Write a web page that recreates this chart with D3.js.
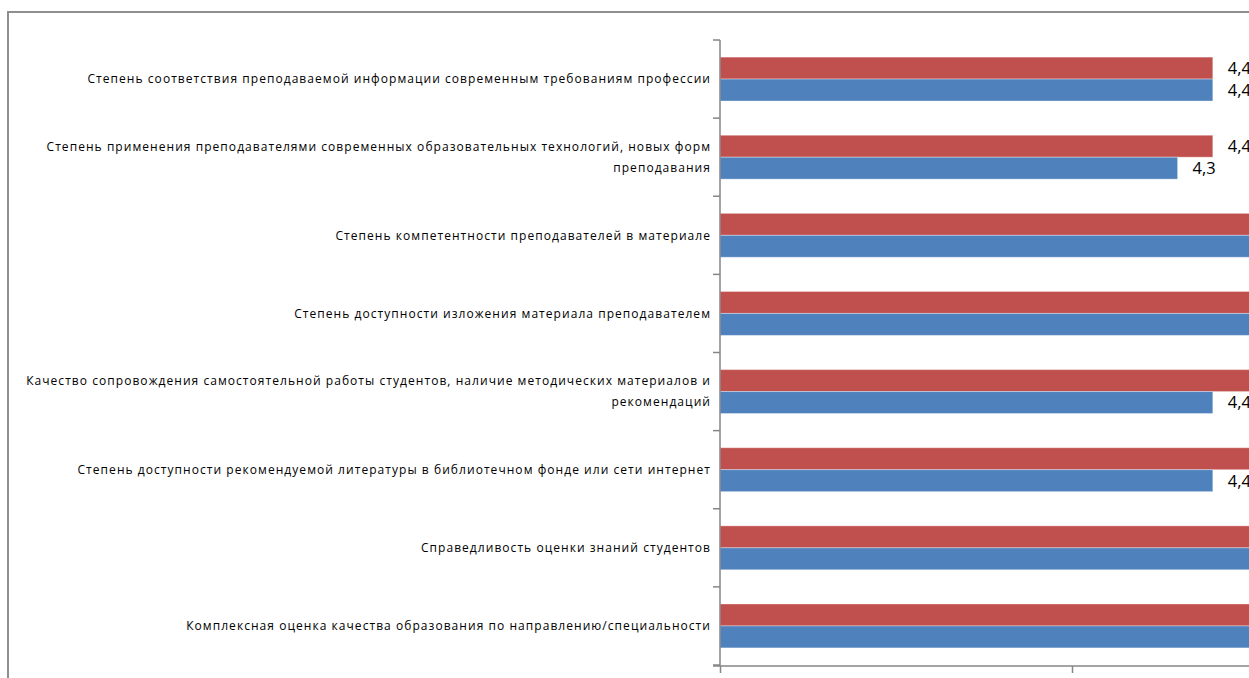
<!DOCTYPE html>
<html>
<head>
<meta charset="utf-8">
<script src="https://cdn.jsdelivr.net/npm/d3@7"></script>
<style>
  body { margin: 0; background: #fff; }
  svg { display: block; }
</style>
</head>
<body>
<div id="chart"></div>
<script>
// categories top to bottom, each split into its display lines
const categories = [
  ["Степень соответствия преподаваемой информации современным требованиям профессии"],
  ["Степень применения преподавателями современных образовательных технологий, новых форм", "преподавания"],
  ["Степень компетентности преподавателей в материале"],
  ["Степень доступности изложения материала преподавателем"],
  ["Качество сопровождения самостоятельной работы студентов, наличие методических материалов и", "рекомендаций"],
  ["Степень доступности рекомендуемой литературы в библиотечном фонде или сети интернет"],
  ["Справедливость оценки знаний студентов"],
  ["Комплексная оценка качества образования по направлению/специальности"]
];
const redValues  = [4.4, 4.4, 4.6, 4.6, 4.6, 4.6, 4.7, 4.6];
const blueValues = [4.4, 4.3, 4.6, 4.6, 4.4, 4.4, 4.6, 4.6];
const xTicks = [3, 4, 5];

const width = 1249;
const height = 678;

const svg = d3.select("#chart")
  .append("svg")
  .attr("width", width)
  .attr("height", height);

// outer frame (only left and top edges are in view)
svg.append("path")
  .attr("d", `M8,${height} L8,12 L${width},12`)
  .style("fill", "none")
  .style("stroke", "#8e8e8e")
  .style("stroke-width", 2);

const x = d3.scaleLinear()
  .domain([3, 5])
  .range([720, 1424]);

const y = d3.scaleBand()
  .domain(d3.range(categories.length))
  .range([40, 665]);

const inner = d3.scaleBand()
  .domain(["red", "blue"])
  .range([0, y.bandwidth()])
  .paddingInner(0)
  .paddingOuter(0.78);

const rows = categories.map((c, i) => ({
  i: i,
  lines: c,
  red: redValues[i],
  blue: blueValues[i]
}));

const series = [
  { key: "red", color: "#C0504D" },
  { key: "blue", color: "#4F81BD" }
];

const fmt = v => d3.format(".1f")(v).replace(".", ",");

series.forEach(s => {
  svg.selectAll("rect.bar-" + s.key)
    .data(rows)
    .enter()
    .append("rect")
    .attr("class", "bar-" + s.key)
    .attr("x", x(3))
    .attr("y", d => y(d.i) + inner(s.key))
    .attr("width", d => x(d[s.key]) - x(3))
    .attr("height", inner.bandwidth())
    .style("fill", s.color)
    .style("stroke", "rgba(255,255,255,0.35)")
    .style("stroke-width", 1);

  // labels past the right edge of the picture are not shown
  svg.selectAll("text.lab-" + s.key)
    .data(rows.filter(d => x(d[s.key]) + 15 < width))
    .enter()
    .append("text")
    .attr("class", "lab-" + s.key)
    .attr("x", d => x(d[s.key]) + 15)
    .attr("y", d => y(d.i) + inner(s.key) + inner.bandwidth() / 2)
    .attr("dy", "0.36em")
    .style("font-family", "'Open Sans', sans-serif")
    .style("font-size", "16.5px")
    .style("fill", "#000")
    .text(d => fmt(d[s.key]));
});

// category axis
svg.append("line")
  .attr("x1", x(3)).attr("x2", x(3))
  .attr("y1", 40).attr("y2", 666)
  .style("stroke", "#868686")
  .style("stroke-width", 1.5);

svg.selectAll("line.ytick")
  .data(d3.range(categories.length + 1))
  .enter()
  .append("line")
  .attr("class", "ytick")
  .attr("x1", x(3) - 7).attr("x2", x(3))
  .attr("y1", d => d < categories.length ? y(d) : 665)
  .attr("y2", d => d < categories.length ? y(d) : 665)
  .style("stroke", "#868686")
  .style("stroke-width", 1.5);

const labels = svg.selectAll("text.cat")
  .data(rows)
  .enter()
  .append("text")
  .attr("class", "cat")
  .attr("text-anchor", "end")
  .style("font-family", "'Open Sans', sans-serif")
  .style("font-size", "12px")
  .style("letter-spacing", "1.05px")
  .style("fill", "#000");

labels.each(function(d) {
  const n = d.lines.length;
  const cy = y(d.i) + y.bandwidth() / 2;
  d3.select(this).selectAll("tspan")
    .data(d.lines)
    .enter()
    .append("tspan")
    .attr("x", 711)
    .attr("y", (t, k) => cy + (k - (n - 1) / 2) * 21)
    .attr("dy", "0.35em")
    .text(t => t);
});

// value axis (its tick labels sit below the visible area)
const xAxis = d3.axisBottom(x)
  .tickValues(xTicks)
  .tickSize(7)
  .tickFormat("");

const gx = svg.append("g")
  .attr("transform", "translate(0,666)")
  .call(xAxis);

gx.select(".domain").remove();
gx.append("line")
  .attr("x1", 713).attr("x2", 1424)
  .attr("y1", 0).attr("y2", 0)
  .style("stroke", "#868686")
  .style("stroke-width", 1.5);
gx.selectAll(".tick line")
  .style("stroke", "#868686")
  .style("stroke-width", 1.5);
</script>
</body>
</html>
